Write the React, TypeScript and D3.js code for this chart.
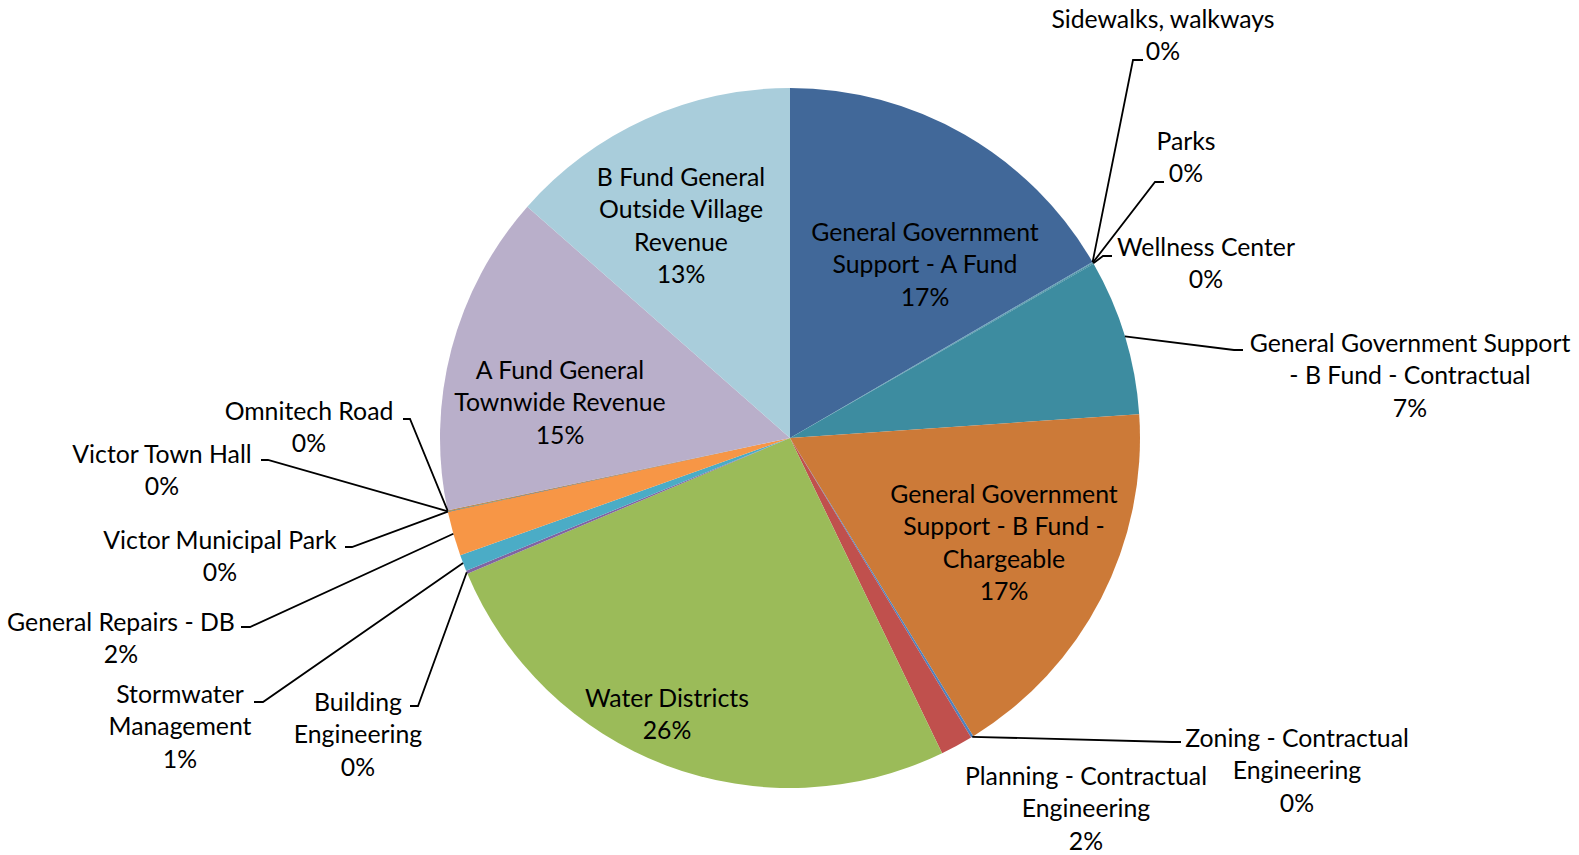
import React, { useEffect, useRef } from "react";
import * as d3 from "d3";

// slice names, in clockwise order from 12 o'clock
const categories = [
  "General Government Support - A Fund",
  "Sidewalks, walkways",
  "Parks",
  "Wellness Center",
  "General Government Support - B Fund - Contractual",
  "General Government Support - B Fund - Chargeable",
  "Zoning - Contractual Engineering",
  "Planning - Contractual Engineering",
  "Water Districts",
  "Building Engineering",
  "Stormwater Management",
  "General Repairs - DB",
  "Victor Municipal Park",
  "Victor Town Hall",
  "Omnitech Road",
  "A Fund General Townwide Revenue",
  "B Fund General Outside Village Revenue",
];

// share of the total, percent
const values = [
  16.6, 0.02, 0.03, 0.05, 7.2, 17.3, 0.12, 1.5, 25.8, 0.15, 0.75, 2.05, 0.02,
  0.02, 0.03, 14.8, 13.5,
];

const percentLabels = [
  "17%", "0%", "0%", "0%", "7%", "17%", "0%", "2%", "26%", "0%", "1%", "2%",
  "0%", "0%", "0%", "15%", "13%",
];

// label text broken into lines as in the chart
const labelLines = [
  ["General Government", "Support - A Fund"],
  ["Sidewalks, walkways"],
  ["Parks"],
  ["Wellness Center"],
  ["General Government Support", "- B Fund - Contractual"],
  ["General Government", "Support - B Fund -", "Chargeable"],
  ["Zoning - Contractual", "Engineering"],
  ["Planning - Contractual", "Engineering"],
  ["Water Districts"],
  ["Building", "Engineering"],
  ["Stormwater", "Management"],
  ["General Repairs - DB"],
  ["Victor Municipal Park"],
  ["Victor Town Hall"],
  ["Omnitech Road"],
  ["A Fund General", "Townwide Revenue"],
  ["B Fund General", "Outside Village", "Revenue"],
];

const colors = [
  "#416899", "#4a7ebb", "#3f8a9e", "#3f8a9e", "#3d8ca0", "#cc7a38", "#4f81bd",
  "#c0504d", "#9bbb59", "#8064a2", "#4bacc6", "#f79646", "#2c4d75", "#77933c",
  "#b65708", "#b9afca", "#a9cddb",
];

// label placement: [x, y of first line], optional leader [elbowX, elbowY, endX]
const labelPos: [number, number][] = [
  [925, 232], [1163, 19], [1186, 141], [1206, 247], [1410, 343], [1004, 494],
  [1297, 738], [1086, 776], [667, 698], [358, 702], [180, 694], [121, 622],
  [220, 540], [162, 454], [309, 411], [560, 370], [681, 177],
];

const leaders: ([number, number, number] | null)[] = [
  null, [1133, 60, 1143], [1155, 182, 1164], [1103, 256, 1112],
  [1234, 350, 1243], null, [1172, 742, 1181], null, null,
  [418, 706, 410], [263, 702, 254], [250, 627, 241], [352, 547, 345],
  [268, 460, 261], [410, 419, 403], null, null,
];

const W = 1579;
const H = 855;
const cx = 790;
const cy = 438;
const R = 350;
const lineH = 32.5;

export default function App() {
  const ref = useRef<SVGSVGElement>(null);

  useEffect(() => {
    const svg = d3.select(ref.current);
    svg.selectAll("*").remove();

    const pie = d3
      .pie<number>()
      .sort(null)
      .value((d) => d);
    const arcs = pie(values);
    const arc = d3.arc<d3.PieArcDatum<number>>().innerRadius(0).outerRadius(R);

    const g = svg.append("g").attr("transform", `translate(${cx},${cy})`);
    g.selectAll("path")
      .data(arcs)
      .enter()
      .append("path")
      .attr("d", arc)
      .attr("fill", (d, i) => colors[i]);

    // leader lines from the slice edge
    arcs.forEach((a, i) => {
      const l = leaders[i];
      if (!l) return;
      const mid = (a.startAngle + a.endAngle) / 2;
      const sx = cx + R * Math.sin(mid);
      const sy = cy - R * Math.cos(mid);
      svg
        .append("polyline")
        .attr("points", `${sx},${sy} ${l[0]},${l[1]} ${l[2]},${l[1]}`)
        .attr("fill", "none")
        .attr("stroke", "#000")
        .attr("stroke-width", 1.8);
    });

    // labels
    categories.forEach((c, i) => {
      const [x, y] = labelPos[i];
      const lines = [...labelLines[i], percentLabels[i]];
      const t = svg
        .append("text")
        .attr("text-anchor", "middle")
        .attr("font-family", "Lato, 'Open Sans', sans-serif")
        .attr("font-size", 24.8)
        .attr("fill", "#000");
      lines.forEach((s, j) => {
        t.append("tspan")
          .attr("x", x)
          .attr("y", y + j * lineH)
          .attr("dy", "0.35em")
          .text(s);
      });
    });
  }, []);

  return (
    <svg
      ref={ref}
      width={W}
      height={H}
      style={{ position: "absolute", left: 0, top: 0, background: "#fff" }}
    />
  );
}
